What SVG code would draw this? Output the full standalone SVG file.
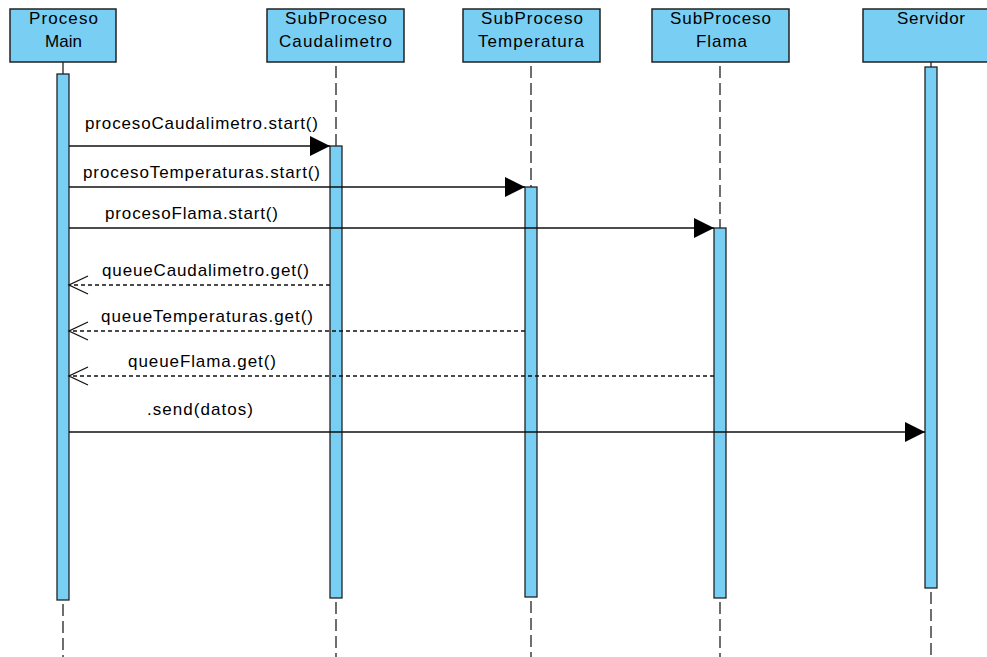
<svg xmlns="http://www.w3.org/2000/svg" width="987" height="657" viewBox="0 0 987 657">
<style>
.box{fill:#79cef4;stroke:#222;stroke-width:1.5}
.bar{fill:#79cef4;stroke:#222;stroke-width:1.3}
.life{stroke:#222;stroke-width:1.3;stroke-dasharray:12 5;fill:none}
.t{font-family:"Liberation Sans",Arial,sans-serif;font-size:17px;fill:#000}
.msg{stroke:#111;stroke-width:1.3;fill:none}
.ret{stroke:#111;stroke-width:1.3;fill:none;stroke-dasharray:4 3}
</style>
<defs>
<marker id="filled" markerUnits="userSpaceOnUse" markerWidth="20" markerHeight="20" refX="20" refY="10" orient="auto" viewBox="0 0 20 20">
<path d="M0,0 L20,10 L0,20 z" fill="#000"/>
</marker>
<marker id="open" markerUnits="userSpaceOnUse" markerWidth="22" markerHeight="22" refX="20" refY="11" orient="auto" viewBox="0 0 22 22">
<path d="M1,2 L20,11 L1,20" fill="none" stroke="#111" stroke-width="1.3"/>
</marker>
</defs>
<rect width="987" height="657" fill="#fff"/>
<g id="lifelines">
<line class="life" x1="63" y1="62" x2="63" y2="74" style="stroke-dasharray:none"/>
<line class="life" x1="63" y1="604" x2="63" y2="657"/>
<line class="life" x1="336" y1="66" x2="336" y2="146"/>
<line class="life" x1="336" y1="602" x2="336" y2="657"/>
<line class="life" x1="531" y1="66" x2="531" y2="187"/>
<line class="life" x1="531" y1="601" x2="531" y2="657"/>
<line class="life" x1="720" y1="66" x2="720" y2="228"/>
<line class="life" x1="720" y1="602" x2="720" y2="657"/>
<line class="life" x1="931" y1="62" x2="931" y2="67" style="stroke-dasharray:none"/>
<line class="life" x1="931" y1="592" x2="931" y2="657"/>
</g>
<g id="main">
<rect class="box" x="10" y="9" width="106" height="53"/>
<text class="t" x="29" y="24" textLength="69" lengthAdjust="spacing">Proceso</text>
<text class="t" x="45" y="47" textLength="37" lengthAdjust="spacing">Main</text>
<rect class="bar" x="57" y="74" width="12" height="526"/>
</g>
<g id="caudalimetro">
<rect class="box" x="267" y="9" width="137" height="53"/>
<text class="t" x="285" y="24" textLength="102" lengthAdjust="spacing">SubProceso</text>
<text class="t" x="279" y="47" textLength="113" lengthAdjust="spacing">Caudalimetro</text>
<rect class="bar" x="330" y="146" width="12" height="452"/>
</g>
<g id="temperatura">
<rect class="box" x="463" y="9" width="137" height="53"/>
<text class="t" x="481" y="24" textLength="102" lengthAdjust="spacing">SubProceso</text>
<text class="t" x="478" y="47" textLength="106" lengthAdjust="spacing">Temperatura</text>
<rect class="bar" x="525" y="187" width="12" height="410"/>
</g>
<g id="flama">
<rect class="box" x="652" y="9" width="137" height="53"/>
<text class="t" x="670" y="24" textLength="101" lengthAdjust="spacing">SubProceso</text>
<text class="t" x="696" y="47" textLength="51" lengthAdjust="spacing">Flama</text>
<rect class="bar" x="714" y="228" width="12" height="370"/>
</g>
<g id="servidor">
<rect class="box" x="863" y="9" width="137" height="53"/>
<text class="t" x="897" y="24" textLength="68" lengthAdjust="spacing">Servidor</text>
<rect class="bar" x="925" y="67" width="12" height="521"/>
</g>
<g id="connectors">
<line class="msg" x1="69" y1="146" x2="330" y2="146" marker-end="url(#filled)"/>
<text class="t" x="85" y="129" textLength="233" lengthAdjust="spacing">procesoCaudalimetro.start()</text>
<line class="msg" x1="69" y1="187" x2="525" y2="187" marker-end="url(#filled)"/>
<text class="t" x="83" y="178" textLength="237" lengthAdjust="spacing">procesoTemperaturas.start()</text>
<line class="msg" x1="69" y1="228" x2="714" y2="228" marker-end="url(#filled)"/>
<text class="t" x="105" y="219" textLength="173" lengthAdjust="spacing">procesoFlama.start()</text>
<line class="ret" x1="330" y1="285" x2="69" y2="285" marker-end="url(#open)"/>
<text class="t" x="102" y="276" textLength="207" lengthAdjust="spacing">queueCaudalimetro.get()</text>
<line class="ret" x1="525" y1="331" x2="69" y2="331" marker-end="url(#open)"/>
<text class="t" x="101" y="322" textLength="212" lengthAdjust="spacing">queueTemperaturas.get()</text>
<line class="ret" x1="714" y1="376" x2="69" y2="376" marker-end="url(#open)"/>
<text class="t" x="128" y="367" textLength="148" lengthAdjust="spacing">queueFlama.get()</text>
<line class="msg" x1="69" y1="432" x2="925" y2="432" marker-end="url(#filled)"/>
<text class="t" x="147" y="415" textLength="106" lengthAdjust="spacing">.send(datos)</text>
</g>
</svg>
